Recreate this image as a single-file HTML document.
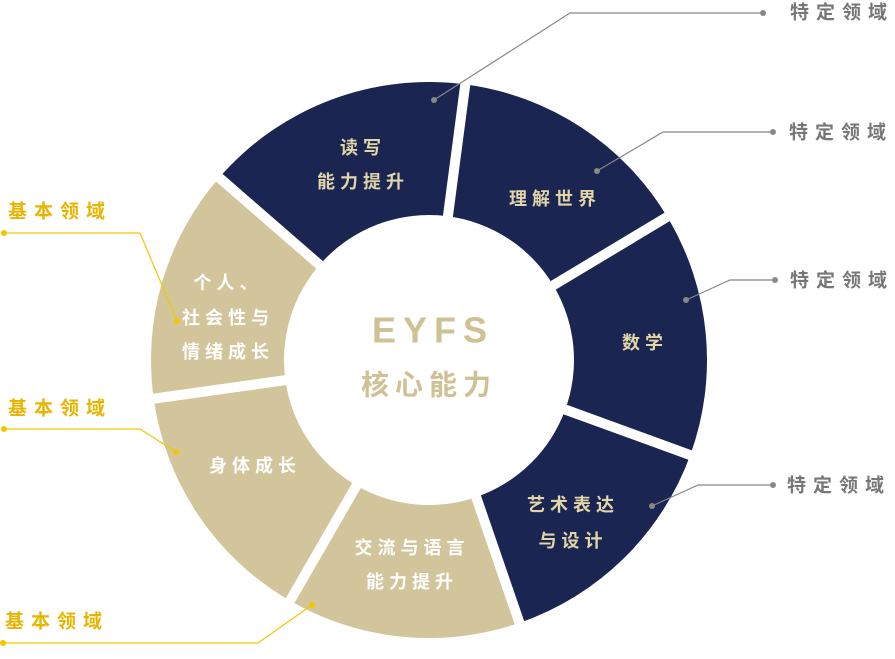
<!DOCTYPE html>
<html><head><meta charset="utf-8"><style>
html,body{margin:0;padding:0;background:#fff;}
svg text{font-family:"Liberation Sans","Noto Sans CJK SC",sans-serif;font-weight:bold;}
</style></head><body>
<svg id="s" width="895" height="654" viewBox="0 0 895 654" xmlns="http://www.w3.org/2000/svg">
<g id="segs"></g>
<g id="gaps" stroke="#fff" stroke-width="10"></g>
<g font-size="18" letter-spacing="5" text-anchor="middle" dominant-baseline="central">
<g fill="#e2d5a8">
<text x="363" y="148">读写</text>
<text x="363" y="182">能力提升</text>
<text x="555" y="199">理解世界</text>
<text x="645" y="343">数学</text>
<text x="573" y="505">艺术表达</text>
<text x="573" y="541">与设计</text>
</g>
<g fill="#fff">
<text x="412" y="548">交流与语言</text>
<text x="412" y="582">能力提升</text>
<text x="255" y="466">身体成长</text>
<text x="228" y="283">个人、</text>
<text x="228" y="318">社会性与</text>
<text x="228" y="352">情绪成长</text>
</g>
<g fill="#cfc194">
<text x="433" y="330" font-size="36" letter-spacing="7">EYFS</text>
<text x="429" y="385" font-size="28" letter-spacing="6">核心能力</text>
</g>
</g>
<g fill="none" stroke="#888" stroke-width="1.2">
<polyline points="434,100 570,13 763,13"/>
<polyline points="597,171 663,132 773,132"/>
<polyline points="686,300 730,280 775,280"/>
<polyline points="652,506 698,485 773,485"/>
</g>
<g fill="#888">
<circle cx="434" cy="100" r="3"/><circle cx="763" cy="13" r="3"/>
<circle cx="597" cy="171" r="3"/><circle cx="773" cy="132" r="3"/>
<circle cx="686" cy="300" r="3"/><circle cx="775" cy="280" r="3"/>
<circle cx="652" cy="506" r="3"/><circle cx="773" cy="485" r="3"/>
</g>
<g fill="#777" font-size="19" letter-spacing="7" dominant-baseline="central">
<text x="790" y="13">特定领域</text>
<text x="789" y="133">特定领域</text>
<text x="790" y="281">特定领域</text>
<text x="787" y="486">特定领域</text>
</g>
<g fill="none" stroke="#f2c700" stroke-width="1.2">
<polyline points="4,233 140,233 177,321"/>
<polyline points="4,429 140,429 176,452"/>
<polyline points="3,643 258,643 312,605"/>
</g>
<g fill="#f2c700">
<circle cx="4" cy="233" r="3"/><circle cx="177" cy="321" r="3"/>
<circle cx="4" cy="429" r="3"/><circle cx="176" cy="452" r="3"/>
<circle cx="3" cy="643" r="3"/><circle cx="312" cy="605" r="3"/>
</g>
<g fill="#e8b400" font-size="19" letter-spacing="7" dominant-baseline="central">
<text x="8" y="212">基本领域</text>
<text x="8" y="409">基本领域</text>
<text x="5" y="622">基本领域</text>
</g>
</svg>
<script>
var cx=429,cy=360,R=278,r=145;
var navy="#1b2552",beige="#d2c59c";
var b=[311,367.5,419,470,521,570,622,671];
var cols=[navy,navy,navy,navy,beige,beige,beige];
function pt(a,rad){var t=(a-90)*Math.PI/180;return [cx+rad*Math.cos(t),cy+rad*Math.sin(t)];}
var segs=document.getElementById('segs'),gaps=document.getElementById('gaps');
var ns="http://www.w3.org/2000/svg";
for(var i=0;i<7;i++){
 var a0=b[i],a1=b[i+1];
 var p0=pt(a0,R),p1=pt(a1,R),q1=pt(a1,r),q0=pt(a0,r);
 var d="M"+p0+" A"+R+" "+R+" 0 0 1 "+p1+" L"+q1+" A"+r+" "+r+" 0 0 0 "+q0+" Z";
 var p=document.createElementNS(ns,'path');p.setAttribute('d',d);p.setAttribute('fill',cols[i]);segs.appendChild(p);
 var g0=pt(a0,r-5),g1=pt(a0,R+5);
 var l=document.createElementNS(ns,'line');
 l.setAttribute('x1',g0[0]);l.setAttribute('y1',g0[1]);l.setAttribute('x2',g1[0]);l.setAttribute('y2',g1[1]);
 gaps.appendChild(l);
}
</script>
</body></html>
